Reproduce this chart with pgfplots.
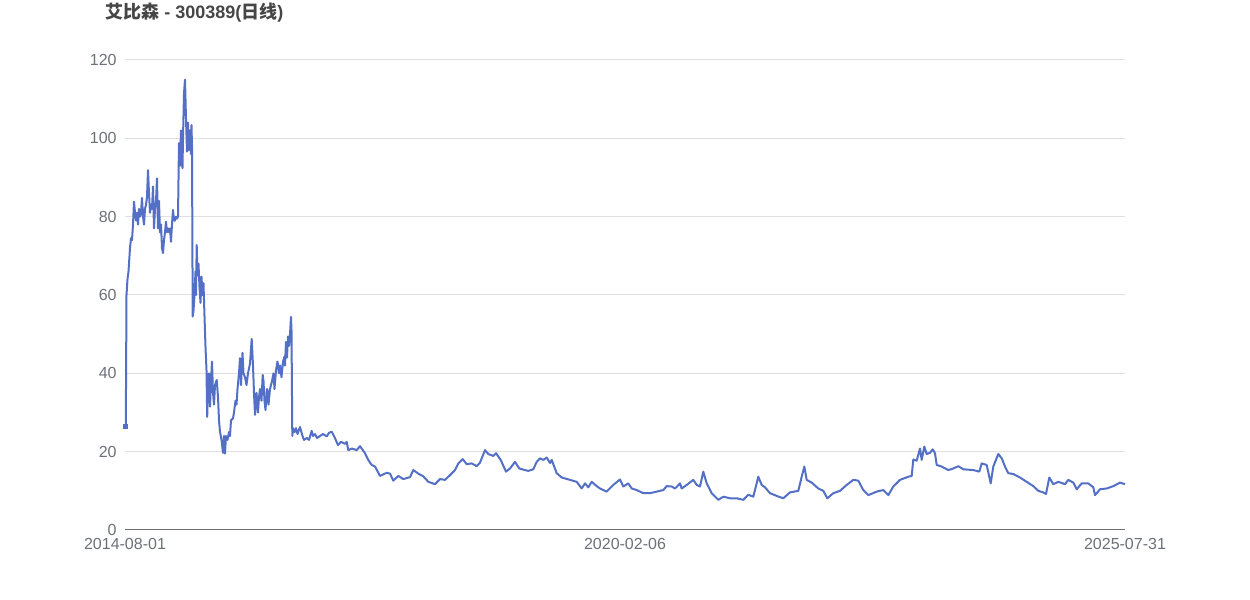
\documentclass[border=0pt]{standalone}
\usepackage{pgfplots}
\pgfplotsset{compat=1.18}
\usepackage{fontspec}
\setmainfont{Liberation Sans}
\newfontfamily\cjk{Noto Sans CJK SC}
\definecolor{linec}{HTML}{5470C6}
\definecolor{tickc}{HTML}{6E7079}
\definecolor{gridc}{HTML}{E0E0E0}
\definecolor{titlec}{HTML}{464646}
\begin{document}
\begin{tikzpicture}
\useasboundingbox (0,0) rectangle (625pt,300pt);
\begin{axis}[
  at={(62.5pt,35pt)}, anchor=south west,
  scale only axis, width=500pt, height=235pt,
  xmin=125, xmax=1125, ymin=0, ymax=120,
  xtick={125,625,1125},
  xticklabels={2014-08-01,2020-02-06,2025-07-31},
  ytick={0,20,40,60,80,100,120},
  major tick length=0pt,
  separate axis lines,
  axis x line*=bottom, axis y line*=left,
  x axis line style={-, color=tickc, line width=0.5pt},
  y axis line style={draw=none},
  ymajorgrids, major grid style={color=gridc, line width=0.5pt},
  tick label style={font=\fontsize{8pt}{9.6pt}\selectfont, text=tickc},
  /pgf/number format/assume math mode=true,
  xticklabel style={inner sep=0pt, anchor=north, yshift=-4pt},
  yticklabel style={inner sep=0pt, anchor=east, xshift=-4pt},
  clip=false,
]
\addplot[color=linec, line width=1pt, line join=round, mark=none] coordinates {
(125,26.5)(125.8,26.5)(126.5,60)(127.5,64)(128.5,66)(130,72)(131,74.5)(132,74)(133,78)(134,83.8)
(135,81)(136,79)(137,81)(138,78)(139,82)(140,80)(141,81)(142,84.8)(143,80)(144,78)(145,82)(146,83)
(147,85)(148,91.9)(149,86)(150,81)(151,83)(152,82)(153,87.7)(154,77)(155,82)(156,84)(157,89.8)
(158,77)(159,84)(160,76)(161,78)(162,72)(163,70.7)(164,74)(165,76)(166,78.7)(167,76)(168,77)(169,76)
(170,77)(171,73.6)(172,78)(173,81.7)(174,79)(175,79)(176,80)(177,79.5)(178,80)(179,98.8)(180,93)
(181,102)(182,97)(182.5,92.4)(183,100)(184,111.5)(185,115)(186,105)(187,96.6)(188,104)(189,97)
(190,102)(191,96)(191.5,103.4)(192,98)(192.7,54.5)(193.5,56)(194.5,60)(195.5,66)(196,60)(196.7,72.8)
(197.5,65)(198.5,68)(199.5,62)(200.5,58)(201.5,64.7)(202.5,60)(203.5,63)(204.3,56.2)(205.5,46.8)
(206.5,40.8)(207.2,28.9)(208,38)(209,40)(210,31.5)(211,38)(212,43)(213,35)(214,32)(215,37)(216.7,38.3)
(218,34)(219,28)(220,25.1)(221.5,23)(223,19.7)(224,24)(225,19.5)(226,24)(227.5,23)(229,25)(230,24)
(231,28)(233,28.5)(234,30)(235.5,33)(236.5,32)(237.5,36)(239,40)(240,43.9)(241,37)(242.5,45.2)
(243.5,40)(245,39)(246.5,37)(248,40)(250,42.5)(251.7,48.8)(253,42)(254,35)(255,29.4)(256.5,35)
(258,30)(259,34)(260,36)(261.5,33)(262.7,39.6)(263.5,38)(264.5,33)(265.5,30.6)(267,36)(268,35)
(268.5,32)(270,36)(272,38)(273.5,40)(274.5,36)(276,40.8)(277.5,43)(279,40)(280,42)(281.5,39)(283,43)
(284.5,44.3)(285,42)(286,48)(287,44)(288,49.4)(289,47)(290,50)(291,54.4)(291.5,51)(292.3,24)(293,26)
(294.7,25)(296,26)(297.5,24.5)(300,26.3)(302.5,24)(304,23)(307,23.5)(309,23)(311.7,25.3)(313,24)
(315,24.5)(317,23.5)(320,24)(323,24.5)(326.7,23.9)(329,24.8)(331.7,25.1)(334,24)(338,21.7)(341,22.5)
(345,22)(346.7,22.5)(348.3,20.4)(352,20.8)(356.7,20.4)(360,21.4)(365,19.6)(368,18)(371.7,16.6)
(375,16.2)(380,13.8)(386.7,14.6)(390,14.4)(393.3,12.6)(398.3,13.8)(403.3,13.0)(410,13.5)(413.3,15.3)
(418.3,14.4)(423.3,13.7)(428.3,12.3)(435,11.7)(440,13.0)(445,12.8)(450,14.0)(455,15.3)(458.3,17.0)
(462.7,18.1)(466.7,16.8)(471.7,17.0)(476.7,16.3)(480,17.2)(485,20.4)(488.3,19.4)(493.3,18.9)
(496,19.6)(500.7,17.9)(506,14.9)(510,15.7)(515,17.4)(519.3,15.7)(525,15.3)(528.3,15.1)(533.3,15.5)
(536.7,17.4)(540,18.3)(543.3,17.9)(546.7,18.5)(550,17.1)(551.7,17.9)(556.7,14.5)(561.7,13.4)
(570,12.8)(576.7,12.3)(581.7,10.6)(585,11.9)(588.3,10.9)(591.7,12.3)(596.7,11.2)(600,10.6)(606.7,9.8)
(613.3,11.5)(620,12.9)(623.3,11.1)(628.3,11.9)(631.7,10.6)(636.7,10.2)(640,9.8)(643.3,9.4)(650,9.4)
(656.7,9.8)(663.3,10.2)(666.7,11.2)(671.7,11.1)(675,10.6)(680,11.9)(681.7,10.6)(686.7,11.5)
(693.3,12.8)(696.7,11.5)(700,11.1)(703.3,14.9)(706.7,11.9)(711.7,9.4)(718.3,7.7)(723.3,8.5)
(730,8.1)(736.7,8.1)(743.3,7.7)(748.3,9.0)(753.3,8.5)(758.3,13.6)(761.7,11.5)(765,10.9)(770,9.4)
(776.7,8.7)(783.3,8.1)(790,9.6)(798.3,10.0)(801.7,13.6)(804.3,16.2)(806.7,12.8)(811.7,12.1)
(818.3,10.6)(823.3,10.0)(827.3,8.1)(833.3,9.4)(840,10.0)(846.7,11.5)(853.3,12.8)(858.3,12.6)
(863.3,10.2)(868.3,8.9)(876.7,9.8)(883.3,10.2)(888.3,8.9)(893.3,11.1)(900,12.8)(908.3,13.6)
(911.7,13.8)(913.3,18.0)(916.7,17.7)(920,20.8)(921.7,17.9)(924.3,21.3)(926.7,19.4)(930,19.7)
(932.7,20.6)(935,19.6)(936.7,16.6)(941.7,16.2)(948.3,15.3)(953.3,15.7)(958.3,16.3)(963.3,15.5)
(973.3,15.3)(979.3,14.9)(981.7,17.0)(986.7,16.6)(990.7,11.9)(993.3,16.2)(998.3,19.4)(1001.7,18.3)
(1005,16.2)(1008.3,14.5)(1013.3,14.3)(1020,13.4)(1026.7,12.3)(1033.3,11.2)(1038.3,10.0)(1043.3,9.6)
(1046,9.2)(1049.3,13.4)(1053.3,11.7)(1058.3,12.3)(1065,11.7)(1068.3,12.8)(1073.3,12.1)(1076.7,10.4)
(1081.7,11.9)(1088.3,11.9)(1093.3,10.9)(1095,8.9)(1100,10.4)(1106.7,10.6)(1113.3,11.2)(1120,12.1)
(1125,11.7)
};
\addplot[only marks, mark=square*, mark size=1pt, color=linec] coordinates {(125,26.5)};
\end{axis}
\node[anchor=west, inner sep=0pt, text=titlec, font=\bfseries\fontsize{9pt}{10.8pt}\selectfont] at (52.5pt,293.5pt) {{\cjk 艾比森} - 300389({\cjk 日线})};
\end{tikzpicture}
\end{document}
